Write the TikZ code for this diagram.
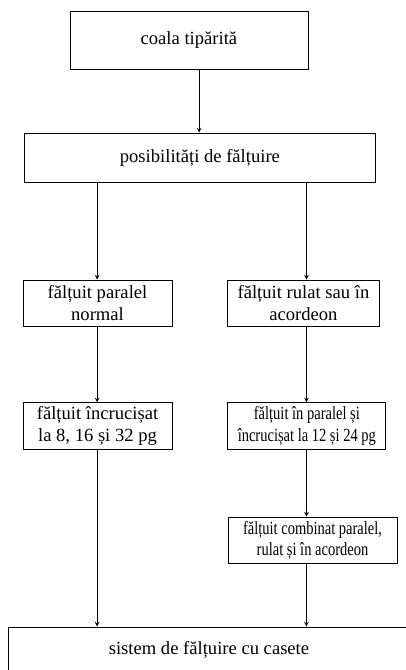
\documentclass[tikz,border=0pt]{standalone}
\usepackage{fontspec}
\setmainfont{Liberation Serif}
\newfontfamily\narrowserif[FakeStretch=0.78]{Liberation Serif}
\usepackage{tikz}
\usetikzlibrary{positioning}
\tikzset{
>=stealth, % small closed arrow heads
every node/.style={font=\fontsize{14}{16.5}\selectfont}, % Times-like text
box/.style={draw, semithick, align=center, inner sep=0pt}, % every block of the scheme
narrow/.style={font=\fontsize{14}{16.5}\narrowserif}, % squeezed text in the small boxes
}
\begin{document}
\begin{tikzpicture}[semithick]
        \useasboundingbox (0,0) rectangle (10.74,-17.73);
        \node[box, minimum width=6.30cm, minimum height=1.53cm] (coala) at (5.00,-1.06) {coala tipărită};
        \node[box, minimum width=9.31cm, minimum height=1.30cm] (posib) at (5.29,-4.17) {posibilități de fălțuire};
        \node[box, minimum width=3.94cm, minimum height=1.24cm] (paralel) at (2.58,-8.03) {fălțuit paralel\\normal};
        \node[box, minimum width=4.00cm, minimum height=1.24cm] (rulat) at (8.03,-8.03) {fălțuit rulat sau în\\acordeon};
        \node[box, minimum width=3.94cm, minimum height=1.22cm] (incrucisat) at (2.58,-11.27) {fălțuit încrucișat\\la 8, 16 și 32 pg};
        \node[box, narrow, minimum width=4.18cm, minimum height=1.22cm] (inparalel) at (8.12,-11.27) {fălțuit în paralel și\\încrucișat la 12 și 24 pg};
        \node[box, narrow, minimum width=4.47cm, minimum height=1.24cm] (combinat) at (8.27,-14.30) {fălțuit combinat paralel,\\rulat și în acordeon};
        \node[box, minimum width=10.64cm, minimum height=1.22cm] (sistem) at (5.53,-17.20) {sistem de fălțuire cu casete};

        \coordinate (mid) at (5.27,0);
        \coordinate (lcol) at (2.57,0);
        \coordinate (rcol) at (8.11,0);

        \draw[->] (coala.south -| mid) -- (posib.north -| mid);
        \draw[->] (posib.south -| lcol) -- (paralel.north -| lcol);
        \draw[->] (posib.south -| rcol) -- (rulat.north -| rcol);
        \draw[->] (paralel.south -| lcol) -- (incrucisat.north -| lcol);
        \draw[->] (rulat.south -| rcol) -- (inparalel.north -| rcol);
        \draw[->] (inparalel.south -| rcol) -- (combinat.north -| rcol);
        \draw[->] (incrucisat.south -| lcol) -- (sistem.north -| lcol);
        \draw[->] (combinat.south -| rcol) -- (sistem.north -| rcol);
    \end{tikzpicture}
\end{document}
